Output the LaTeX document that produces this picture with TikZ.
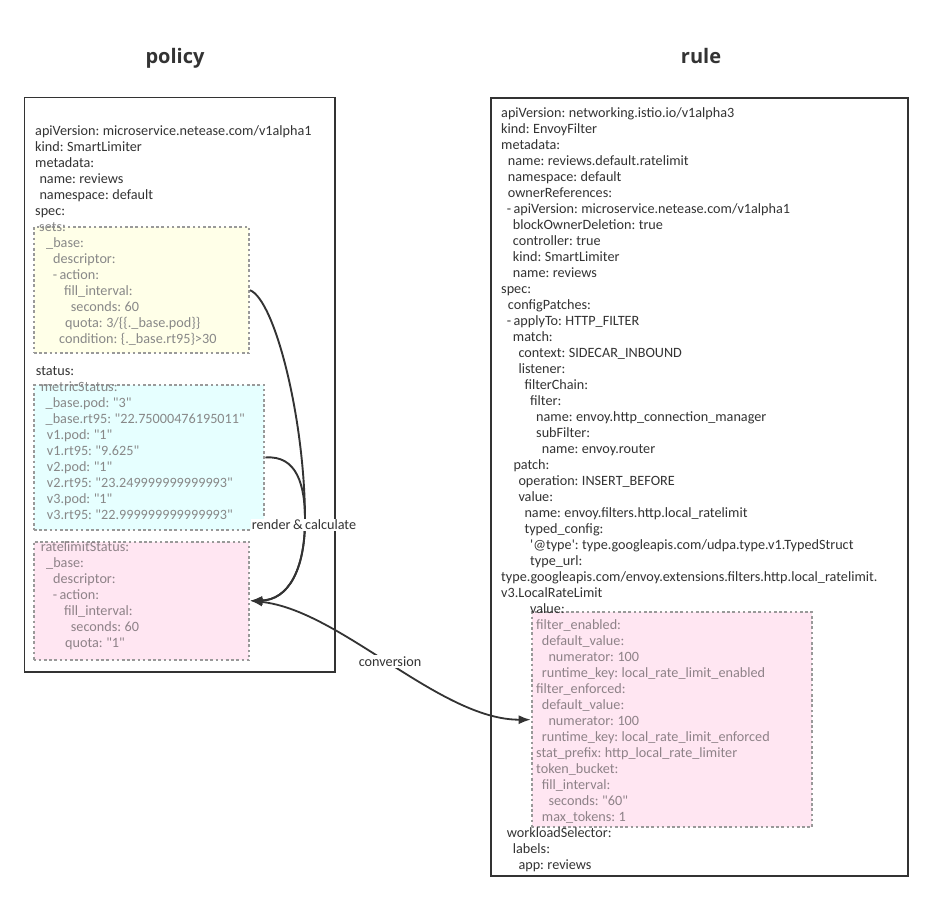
\documentclass[tikz,border=0pt]{standalone}
\usepackage{fontspec}
\newfontfamily\cfont{Carlito}[WordSpace=0.75]
\newfontfamily\tfont{Open Sans}
\usetikzlibrary{arrows.meta}
\definecolor{ink}{HTML}{333333}
\definecolor{gtext}{HTML}{888888}
\definecolor{ptext}{HTML}{8E8288}
\definecolor{yfill}{HTML}{FFFFE8}
\definecolor{cfill}{HTML}{E6FFFF}
\definecolor{pfill}{HTML}{FFE6F2}
\definecolor{dashc}{HTML}{999999}
\newcommand\myind[1]{\hspace*{#1pt}}
\newcommand\fl{\rule{0pt}{12pt}}
\begin{document}
\begin{tikzpicture}[x=1pt,y=-1pt,
  mainbox/.style={draw=ink, line width=1.9pt, inner sep=0pt, fill=white},
  dbox/.style={draw=dashc, line width=2pt, dash pattern=on 2.6pt off 2.6pt, inner sep=0pt},
  txt/.style={anchor=north west, inner sep=0pt, align=left, font=\fontsize{14.2}{16}\selectfont\cfont, text=ink},
  title/.style={anchor=base, inner sep=0pt, font=\fontsize{20}{24}\selectfont\tfont\bfseries, text=ink},
  lbl/.style={fill=white, inner sep=1.2pt, font=\fontsize{14.2}{16}\selectfont\cfont, text=ink},
  conn/.style={draw=ink, line width=1.9pt, -{Latex[length=12pt,width=9pt]}},
  conn2/.style={draw=ink, line width=1.8pt, {Latex[length=12pt,width=9pt]}-{Latex[length=12pt,width=9pt]}}
]
\useasboundingbox[fill=white] (0,0) rectangle (932,902);

% titles
\node[title] (tpolicy) at (175,63) {policy};
\node[title] (trule) at (701,63) {rule};

% main boxes
\node[mainbox, minimum width=310.5pt, minimum height=574.5pt] (policy) at (179.75,384.75) {};
\node[mainbox, minimum width=417pt, minimum height=778pt] (rule) at (699.5,487) {};

% dashed boxes
\node[dbox, fill=yfill, minimum width=215pt, minimum height=126.3pt] (ybox) at (141.5,290.2) {};
\node[dbox, fill=cfill, minimum width=230.3pt, minimum height=145pt] (cbox) at (149.15,457.5) {};
\node[dbox, fill=pfill, minimum width=215.8pt, minimum height=118.5pt] (pbox) at (141.4,600.75) {};
\node[dbox, fill=pfill, minimum width=280pt, minimum height=215.3pt] (rpbox) at (671.7,719.65) {};

% policy text
\node[txt] (pa) at (35,123.7) {\fl apiVersion: microservice.netease.com/v1alpha1\\
kind: SmartLimiter\\
metadata:\\
\myind{4.3}name: reviews\\
\myind{4.3}namespace: default\\
spec:};
\node[txt, text=gtext] (py) at (35,219.5) {\fl\myind{4}sets:\\
\myind{11}\_base:\\
\myind{18}descriptor:\\
\myind{17.7}- action:\\
\myind{29}fill\_interval:\\
\myind{35.7}seconds: 60\\
\myind{30}quota: 3/\{\{.\_base.pod\}\}\\
\myind{24}condition: \{.\_base.rt95\}>30};
\node[txt] (ps) at (35.7,363.5) {\fl status:};
\node[txt, text=gtext] (pc) at (35,379.5) {\fl\myind{5.7}metricStatus:\\
\myind{10.5}\_base.pod: "3"\\
\myind{10.5}\_base.rt95: "22.75000476195011"\\
\myind{11.7}v1.pod: "1"\\
\myind{11.7}v1.rt95: "9.625"\\
\myind{11.7}v2.pod: "1"\\
\myind{11.7}v2.rt95: "23.249999999999993"\\
\myind{11.7}v3.pod: "1"\\
\myind{11.7}v3.rt95: "22.999999999999993"};
\node[txt, text=ptext] (pp) at (35,539.5) {\fl\myind{5.7}ratelimitStatus:\\
\myind{11}\_base:\\
\myind{18}descriptor:\\
\myind{17.7}- action:\\
\myind{29}fill\_interval:\\
\myind{35.7}seconds: 60\\
\myind{30}quota: "1"};

% rule text
\node[txt] (ra) at (501,105.5) {\fl apiVersion: networking.istio.io/v1alpha3\\
kind: EnvoyFilter\\
metadata:\\
\myind{6.7}name: reviews.default.ratelimit\\
\myind{6.7}namespace: default\\
\myind{6.7}ownerReferences:\\
\myind{5.7}- apiVersion: microservice.netease.com/v1alpha1\\
\myind{11.7}blockOwnerDeletion: true\\
\myind{11.7}controller: true\\
\myind{11.7}kind: SmartLimiter\\
\myind{11.7}name: reviews\\
spec:\\
\myind{6.7}configPatches:\\
\myind{5.7}- applyTo: HTTP\_FILTER\\
\myind{11.7}match:\\
\myind{17.3}context: SIDECAR\_INBOUND\\
\myind{17.3}listener:\\
\myind{23.3}filterChain:\\
\myind{29}filter:\\
\myind{35}name: envoy.http\_connection\_manager\\
\myind{35}subFilter:\\
\myind{40.7}name: envoy.router\\
\myind{12.3}patch:\\
\myind{17.3}operation: INSERT\_BEFORE\\
\myind{17.3}value:\\
\myind{23.3}name: envoy.filters.http.local\_ratelimit\\
\myind{23.3}typed\_config:\\
\myind{29}'@type': type.googleapis.com/udpa.type.v1.TypedStruct\\
\myind{29}type\_url:\\
type.googleapis.com/envoy.extensions.filters.http.local\_ratelimit.\\
v3.LocalRateLimit\\
\myind{29}value:};
\node[txt, text=ptext] (rp) at (501,617.5) {\fl\myind{35}filter\_enabled:\\
\myind{40.7}default\_value:\\
\myind{47.3}numerator: 100\\
\myind{40.7}runtime\_key: local\_rate\_limit\_enabled\\
\myind{35}filter\_enforced:\\
\myind{40.7}default\_value:\\
\myind{47.3}numerator: 100\\
\myind{40.7}runtime\_key: local\_rate\_limit\_enforced\\
\myind{35}stat\_prefix: http\_local\_rate\_limiter\\
\myind{35}token\_bucket:\\
\myind{40.7}fill\_interval:\\
\myind{47.3}seconds: "60"\\
\myind{40.7}max\_tokens: 1};
\node[txt] (rw) at (501,825.5) {\fl\myind{5.7}workloadSelector:\\
\myind{11.7}labels:\\
\myind{17.3}app: reviews};

% connectors
\coordinate (bend) at (305,520);
\draw[conn] (ybox.east) .. controls (275,300) and (305,420) .. (bend) .. controls (305,570) and (288,600) .. (pbox.east);
\draw[conn] (cbox.east) .. controls (297,455) and (305,485) .. (bend) .. controls (305,570) and (288,600) .. (pbox.east);
\draw[conn2] (pbox.east) .. controls (340,610) and (440,720) .. (rpbox.west);

% labels
\node[lbl] (lrender) at (304,525) {render \& calculate};
\node[lbl] (lconv) at (390,661.5) {conversion};
\end{tikzpicture}
\end{document}
